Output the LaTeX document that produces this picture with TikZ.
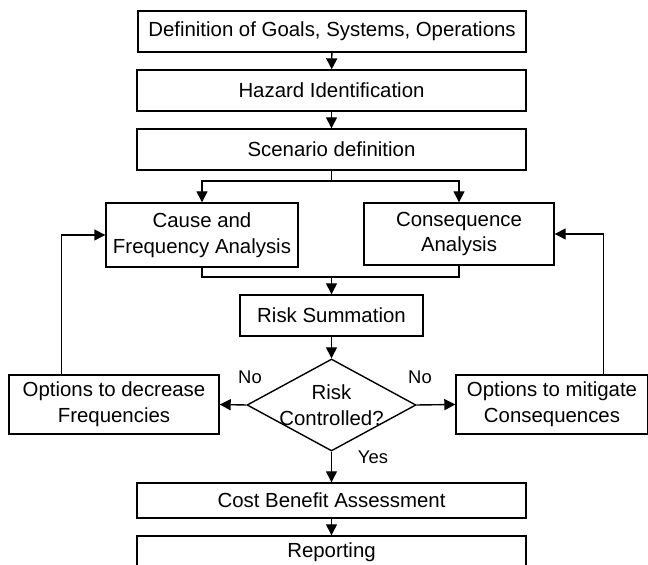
\documentclass[tikz,border=0pt]{standalone}
\usepackage{fontspec}
\setmainfont{Liberation Sans}
\usetikzlibrary{shapes.geometric,arrows.meta}
\tikzset{
  stage/.style={draw, line width=0.7pt, inner sep=0pt, align=center, font=\fontsize{10.2}{12.8}\selectfont},
  decision/.style={diamond, draw, line width=0.7pt, inner sep=0pt, minimum width=84.5pt, minimum height=46pt},
  answer/.style={inner sep=0pt, font=\fontsize{9.2}{11}\selectfont},
  flow/.style={line width=0.7pt, -{Triangle[length=5.5pt,width=5.5pt]}}
}
\begin{document}
\begin{tikzpicture}[x=0.5pt, y=-0.5pt]
    \clip (0,0) rectangle (648,565);
    % main column
    \node[stage, minimum width=194pt, minimum height=20.5pt] (goals) at (332,31.5) {Definition of Goals, Systems, Operations};
    \node[stage, minimum width=194.5pt, minimum height=20.5pt] (hazid) at (331.5,90.5) {Hazard Identification};
    \node[stage, minimum width=194.5pt, minimum height=20.5pt] (scen) at (331.5,149.5) {Scenario definition};
    \node[stage, minimum width=96pt, minimum height=32pt] (cause) at (202,235) {Cause and\\Frequency Analysis};
    \node[stage, minimum width=95pt, minimum height=31pt] (conseq) at (459,234) {Consequence\\Analysis};
    \node[stage, minimum width=91.5pt, minimum height=20.5pt] (risksum) at (331.5,315.5) {Risk Summation};
    \node[decision, label={[align=center, font=\fontsize{10.2}{12.8}\selectfont]center:Risk\\Controlled?}] (rc) at (331.5,405) {};
    \node[stage, minimum width=105pt, minimum height=29.5pt] (decfreq) at (114,404.5) {Options to decrease\\Frequencies};
    \node[stage, minimum width=96pt, minimum height=29.5pt] (mitig) at (552,404.5) {Options to mitigate\\Consequences};
    \node[stage, minimum width=194.5pt, minimum height=17.5pt] (cba) at (331.5,500.5) {Cost Benefit Assessment};
    \node[stage, minimum width=194.5pt, minimum height=16pt] (report) at (331.5,552) {Reporting};
    % answers
    \node[answer] (noleft) at (250,377) {No};
    \node[answer] (noright) at (420,377) {No};
    \node[answer] (yes) at (373,457) {Yes};
    % connectors
    \draw[flow] (goals) -- (hazid);
    \draw[flow] (hazid) -- (scen);
    \coordinate (split) at (331.5,181);
    \draw[line width=0.7pt] (scen) -- (split);
    \foreach \n in {cause, conseq}{
        \draw[flow] (split) -| (\n.north);
    }
    \coordinate (join) at (331.5,277);
    \draw[line width=0.7pt] (cause.south) |- (join) -| (conseq.south);
    \draw[flow] (join) -- (risksum);
    \draw[flow] (risksum) -- (rc);
    \draw[flow] (rc.west) -- (decfreq.east);
    \draw[flow] (rc.east) -- (mitig.west);
    \draw[flow] (rc.south) -- (cba.north);
    \draw[flow] (cba) -- (report);
    \draw[flow] ([xshift=26.5pt]decfreq.north west) |- (cause.west);
    \draw[flow] ([xshift=-22.5pt]mitig.north east) |- (conseq.east);
\end{tikzpicture}
\end{document}
